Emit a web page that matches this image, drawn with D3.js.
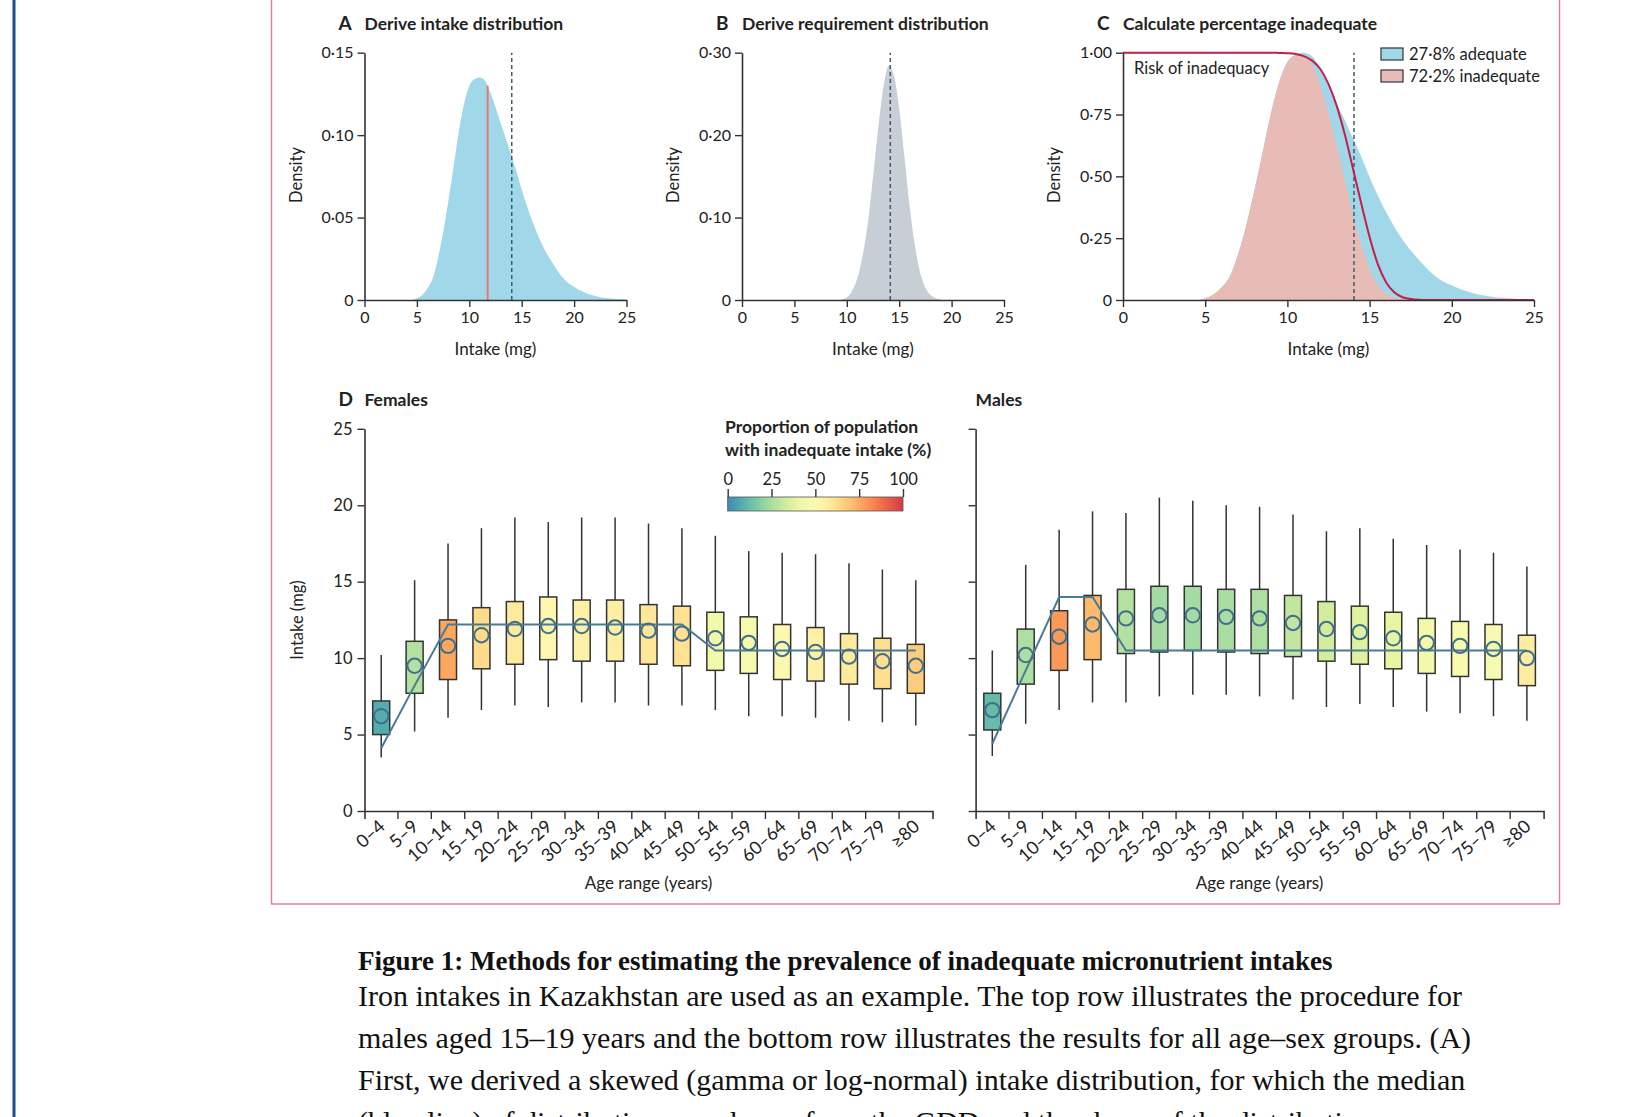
<!DOCTYPE html>
<html>
<head>
<meta charset="utf-8">
<script src="https://cdn.jsdelivr.net/npm/d3@7"></script>
<style>
  body { margin: 0; background: #fff; }
  svg { display: block; }
  .fig text { font-family: Lato, "Open Sans", sans-serif; fill: #222; }
  .cap text { font-family: "Liberation Serif", "Times New Roman", serif; fill: #111; }
</style>
</head>
<body>
<svg id="page" width="1652" height="1117"></svg>
<script>
// ---- data ----

// panel A / C: intake distribution (males 15-19), density per mg
const intakeMg = [0, 0.5, 1, 1.5, 2, 2.5, 3, 3.5, 4, 4.5, 5, 5.5, 6, 6.5, 7, 7.5, 8, 8.5, 9, 9.5,
  10, 10.5, 11, 11.5, 12, 12.5, 13, 13.5, 14, 14.5, 15, 15.5, 16, 16.5, 17, 17.5, 18, 18.5, 19, 19.5,
  20, 20.5, 21, 21.5, 22, 22.5, 23, 23.5, 24, 24.5, 25];
const intakeDensity = [0, 0, 0, 0, 0, 0, 0, 0, 0, 0, 0.001, 0.003, 0.007, 0.013, 0.025, 0.041, 0.060, 0.081, 0.102, 0.119,
  0.130, 0.134, 0.135, 0.133, 0.126, 0.117, 0.107, 0.098, 0.088, 0.078, 0.067, 0.057, 0.048, 0.040, 0.033, 0.027, 0.022, 0.017, 0.013, 0.010,
  0.008, 0.006, 0.0045, 0.0033, 0.0024, 0.0017, 0.0012, 0.0009, 0.0006, 0.0004, 0.0003];
// risk of inadequacy at the same intakes (panel C red curve)
const riskOfInadequacy = [1, 1, 1, 1, 1, 1, 1, 1, 1, 1, 1, 1, 1, 1, 1, 1, 1, 1, 1, 0.999,
  0.998, 0.995, 0.986, 0.968, 0.934, 0.873, 0.785, 0.667, 0.528, 0.388, 0.255, 0.145, 0.072, 0.031, 0.011, 0.004, 0.001, 0, 0, 0,
  0, 0, 0, 0, 0, 0, 0, 0, 0, 0, 0];
const intakeMedian = 11.75;
const intakeMedianDensity = 0.130;
const earMg = 14.05;

// panel B: requirement distribution
const requirementMg = [9.5, 10, 10.5, 11, 11.5, 12, 12.5, 13, 13.5, 14, 14.5, 15, 15.5, 16, 16.5, 17, 17.5, 18, 18.5, 19];
const requirementDensity = [0.001, 0.003, 0.011, 0.026, 0.053, 0.093, 0.149, 0.209, 0.259, 0.284,
  0.272, 0.232, 0.174, 0.113, 0.066, 0.033, 0.015, 0.006, 0.002, 0.0005];
const requirementMedian = 14.15;

const legendLabels = ["27·8% adequate", "72·2% inadequate"];

// panel D: intake by age group
const ageGroups = ["0–4", "5–9", "10–14", "15–19", "20–24", "25–29", "30–34", "35–39", "40–44",
  "45–49", "50–54", "55–59", "60–64", "65–69", "70–74", "75–79", "≥80"];

const femaleLow = [3.5, 5.2, 6.1, 6.6, 6.9, 6.8, 7.1, 7.1, 6.9, 6.9, 6.6, 6.2, 6.2, 6.1, 5.9, 5.8, 5.6];
const femaleQ1 = [5.0, 7.7, 8.6, 9.3, 9.6, 9.9, 9.8, 9.8, 9.6, 9.5, 9.2, 9.0, 8.6, 8.5, 8.3, 8.0, 7.7];
const femaleMedian = [6.2, 9.5, 10.8, 11.5, 11.9, 12.1, 12.1, 12.0, 11.8, 11.6, 11.3, 11.0, 10.6, 10.4, 10.1, 9.8, 9.5];
const femaleQ3 = [7.2, 11.1, 12.5, 13.3, 13.7, 14.0, 13.8, 13.8, 13.5, 13.4, 13.0, 12.7, 12.2, 12.0, 11.6, 11.3, 10.9];
const femaleHigh = [10.2, 15.1, 17.5, 18.5, 19.2, 18.9, 19.2, 19.2, 18.8, 18.5, 18.0, 17.0, 16.9, 16.8, 16.2, 15.8, 15.1];
const femaleInadequate = [8, 27, 76, 63, 58, 52, 55, 56, 59, 61, 44, 46, 50, 55, 58, 62, 67];
const femaleRequirement = [4.1, 8.2, 12.2, 12.2, 12.2, 12.2, 12.2, 12.2, 12.2, 12.2, 10.5, 10.5, 10.5, 10.5, 10.5, 10.5, 10.5];

const maleLow = [3.6, 5.7, 6.6, 7.1, 7.1, 7.5, 7.6, 7.6, 7.5, 7.3, 6.8, 7.0, 6.8, 6.5, 6.4, 6.2, 5.9];
const maleQ1 = [5.3, 8.3, 9.2, 9.9, 10.3, 10.4, 10.5, 10.4, 10.3, 10.1, 9.8, 9.6, 9.3, 9.0, 8.8, 8.6, 8.2];
const maleMedian = [6.6, 10.2, 11.4, 12.2, 12.6, 12.8, 12.8, 12.7, 12.6, 12.3, 11.9, 11.7, 11.3, 11.0, 10.8, 10.6, 10.0];
const maleQ3 = [7.7, 11.9, 13.1, 14.1, 14.5, 14.7, 14.7, 14.5, 14.5, 14.1, 13.7, 13.4, 13.0, 12.6, 12.4, 12.2, 11.5];
const maleHigh = [10.5, 16.1, 18.4, 19.6, 19.5, 20.5, 20.3, 20.0, 19.9, 19.4, 18.3, 18.5, 17.8, 17.4, 17.1, 16.9, 16.0];
const maleInadequate = [12, 26, 79, 72, 27, 24, 24, 25, 26, 30, 34, 37, 40, 44, 47, 48, 57];
const maleRequirement = [4.4, 9.2, 14.0, 14.0, 10.5, 10.5, 10.5, 10.5, 10.5, 10.5, 10.5, 10.5, 10.5, 10.5, 10.5, 10.5, 10.5];

const intakeTicks = [0, 5, 10, 15, 20, 25];
const proportionTicks = [0, 25, 50, 75, 100];

const captionTitle = "Figure 1: Methods for estimating the prevalence of inadequate micronutrient intakes";
const captionLines = [
  "Iron intakes in Kazakhstan are used as an example. The top row illustrates the procedure for",
  "males aged 15–19 years and the bottom row illustrates the results for all age–sex groups. (A)",
  "First, we derived a skewed (gamma or log-normal) intake distribution, for which the median",
  "(blue line) of distribution was drawn from the GDD and the shape of the distribution",
];

// ---- drawing ----
const svg = d3.select("#page");

// page furniture
svg.append("line").attr("x1", 14).attr("x2", 14).attr("y1", 0).attr("y2", 1117)
  .attr("stroke", "#1d4f8e").attr("stroke-width", 3);
svg.append("rect").attr("x", 271.5).attr("y", -10).attr("width", 1288).attr("height", 914)
  .attr("fill", "none").attr("stroke", "#dd8199").attr("stroke-width", 1.5);

const fig = svg.append("g").attr("class", "fig");

const dot = (d) => (d === 0 ? "0" : d3.format(".2f")(d).replace(".", "·"));

function styleAxis(g, size) {
  g.select(".domain").attr("stroke", "#333").attr("stroke-width", 1.6);
  g.selectAll(".tick line").attr("stroke", "#333").attr("stroke-width", 1.4);
  g.selectAll(".tick text").attr("font-size", size || 16).attr("fill", "#222");
}

function panelTitle(x, y, letter, label) {
  if (letter) {
    fig.append("text").attr("x", x - 26).attr("y", y).attr("font-size", 19)
      .attr("font-weight", 700).text(letter);
  }
  fig.append("text").attr("x", x).attr("y", y).attr("font-size", 17.5)
    .attr("font-weight", 700).text(label);
}

function densityPanel(left, right, yMax, yTicks, letter, label) {
  const x = d3.scaleLinear().domain([0, 25]).range([left, right]);
  const y = d3.scaleLinear().domain([0, yMax]).range([300, 52.7]);
  const g = fig.append("g");
  const marks = g.append("g");

  const xa = g.append("g").attr("transform", "translate(0,300)")
    .call(d3.axisBottom(x).tickValues(intakeTicks).tickSize(7).tickPadding(5).tickSizeOuter(0));
  const ya = g.append("g").attr("transform", `translate(${left},0)`)
    .call(d3.axisLeft(y).tickValues(yTicks).tickFormat(dot).tickSize(7).tickPadding(4).tickSizeOuter(0));
  styleAxis(xa);
  styleAxis(ya);

  fig.append("text").attr("x", (left + right) / 2).attr("y", 355)
    .attr("text-anchor", "middle").attr("font-size", 17).text("Intake (mg)");
  fig.append("text").attr("transform", `translate(${left - 63},175) rotate(-90)`)
    .attr("text-anchor", "middle").attr("font-size", 16.5).text("Density");
  panelTitle(left, 30, letter, label);
  return { marks, x, y };
}

function area(p) {
  return d3.area().curve(d3.curveMonotoneX)
    .x((d) => p.x(d[0])).y0(p.y(0)).y1((d) => p.y(d[1]));
}

function dashed(p, mg) {
  p.marks.append("line").attr("x1", p.x(mg)).attr("x2", p.x(mg))
    .attr("y1", p.y(0)).attr("y2", p.y.range()[1])
    .attr("stroke", "#3e5b6b").attr("stroke-width", 1.5).attr("stroke-dasharray", "4,3");
}

// A: intake distribution
const pA = densityPanel(364.5, 626.5, 0.15, [0, 0.05, 0.10, 0.15], "A", "Derive intake distribution");
pA.marks.append("path").datum(d3.zip(intakeMg, intakeDensity)).attr("d", area(pA)).attr("fill", "#a0d8e9");
pA.marks.append("line").attr("x1", pA.x(intakeMedian)).attr("x2", pA.x(intakeMedian))
  .attr("y1", pA.y(0)).attr("y2", pA.y(intakeMedianDensity))
  .attr("stroke", "#e27a72").attr("stroke-width", 2);
dashed(pA, earMg);

// B: requirement distribution
const pB = densityPanel(742, 1004, 0.30, [0, 0.10, 0.20, 0.30], "B", "Derive requirement distribution");
pB.marks.append("path").datum(d3.zip(requirementMg, requirementDensity)).attr("d", area(pB)).attr("fill", "#c7ced5");
dashed(pB, requirementMedian);

// C: percentage inadequate
const pC = densityPanel(1123, 1534, 1, [0, 0.25, 0.5, 0.75, 1], "C", "Calculate percentage inadequate");
const peak = d3.max(intakeDensity);
pC.marks.append("path").datum(intakeMg.map((m, i) => [m, intakeDensity[i] / peak]))
  .attr("d", area(pC)).attr("fill", "#a0d8e9");
pC.marks.append("path").datum(intakeMg.map((m, i) => [m, (intakeDensity[i] / peak) * riskOfInadequacy[i]]))
  .attr("d", area(pC)).attr("fill", "#e8bcb6");
dashed(pC, earMg);
pC.marks.append("path").datum(d3.zip(intakeMg, riskOfInadequacy))
  .attr("d", d3.line().curve(d3.curveMonotoneX).x((d) => pC.x(d[0])).y((d) => pC.y(d[1])))
  .attr("fill", "none").attr("stroke", "#c41e4a").attr("stroke-width", 2);
fig.append("text").attr("x", 1134).attr("y", 74).attr("font-size", 16.5).text("Risk of inadequacy");

const legendFill = ["#a0d8e9", "#e8bcb6"];
legendLabels.forEach((t, i) => {
  fig.append("rect").attr("x", 1381).attr("y", 48 + i * 22).attr("width", 22).attr("height", 12)
    .attr("fill", legendFill[i]).attr("stroke", "#333").attr("stroke-width", 1.2);
  fig.append("text").attr("x", 1409).attr("y", 60 + i * 22).attr("font-size", 16.5).text(t);
});

// D: box plots by age group
const colour = d3.scaleSequential((t) => d3.interpolateSpectral(0.9 - 0.8 * t)).domain([0, 100]);
const yD = d3.scaleLinear().domain([0, 25]).range([811, 428.8]);

function boxPanel(left, labels, low, q1, med, q3, high, inad, req) {
  const x = d3.scaleBand().domain(ageGroups).range([left, left + 568]).paddingInner(0);
  const cx = (d) => x(d) + x.bandwidth() / 2;
  const g = fig.append("g");

  const ya = g.append("g").attr("transform", `translate(${left},0)`)
    .call(d3.axisLeft(yD).tickValues(intakeTicks).tickSize(7).tickPadding(5).tickSizeOuter(0)
      .tickFormat(labels ? d3.format("d") : ""));
  styleAxis(ya, 16.5);
  const xa = g.append("g").attr("transform", "translate(0,811)")
    .call(d3.axisBottom(x).tickSize(0).tickSizeOuter(8).tickFormat(""));
  styleAxis(xa);
  xa.selectAll(".bound").data(ageGroups.slice(1)).join("line").attr("class", "bound")
    .attr("x1", (d) => x(d)).attr("x2", (d) => x(d)).attr("y1", 0).attr("y2", 8)
    .attr("stroke", "#333").attr("stroke-width", 1.4);
  g.selectAll(".age").data(ageGroups).join("text").attr("class", "age")
    .attr("transform", (d) => `translate(${cx(d) + 5},828) rotate(-42)`)
    .attr("text-anchor", "end").attr("font-size", 18).text((d) => d);

  g.selectAll(".whisker").data(ageGroups).join("line").attr("class", "whisker")
    .attr("x1", cx).attr("x2", cx)
    .attr("y1", (d, i) => yD(low[i])).attr("y2", (d, i) => yD(high[i]))
    .attr("stroke", "#333").attr("stroke-width", 1.5);
  g.selectAll(".box").data(ageGroups).join("rect").attr("class", "box")
    .attr("x", (d) => cx(d) - 8.5).attr("width", 17)
    .attr("y", (d, i) => yD(q3[i])).attr("height", (d, i) => yD(q1[i]) - yD(q3[i]))
    .attr("fill", (d, i) => colour(inad[i])).attr("stroke", "#333").attr("stroke-width", 1.5);
  g.append("path").datum(req)
    .attr("d", d3.line().x((d, i) => cx(ageGroups[i])).y((d) => yD(d)))
    .attr("fill", "none").attr("stroke", "#4a7a96").attr("stroke-width", 2);
  g.selectAll(".med").data(ageGroups).join("circle").attr("class", "med")
    .attr("cx", cx).attr("cy", (d, i) => yD(med[i])).attr("r", 7.2)
    .attr("fill", "none").attr("stroke", "#41708c").attr("stroke-width", 2);

  fig.append("text").attr("x", left + 284).attr("y", 889).attr("text-anchor", "middle")
    .attr("font-size", 17).text("Age range (years)");
}

boxPanel(364.5, true, femaleLow, femaleQ1, femaleMedian, femaleQ3, femaleHigh, femaleInadequate, femaleRequirement);
boxPanel(975.6, false, maleLow, maleQ1, maleMedian, maleQ3, maleHigh, maleInadequate, maleRequirement);
panelTitle(364.5, 406, "D", "Females");
panelTitle(975.6, 406, null, "Males");
fig.append("text").attr("transform", "translate(303,620) rotate(-90)")
  .attr("text-anchor", "middle").attr("font-size", 16.5).text("Intake (mg)");

// colour bar
const cb = d3.scaleLinear().domain([0, 100]).range([727.7, 903]);
const grad = svg.append("defs").append("linearGradient").attr("id", "cbar");
grad.selectAll("stop").data(d3.range(0, 101, 5)).join("stop")
  .attr("offset", (d) => d + "%").attr("stop-color", (d) => colour(d));
fig.append("rect").attr("x", cb(0)).attr("y", 497).attr("width", cb(100) - cb(0)).attr("height", 14)
  .attr("fill", "url(#cbar)").attr("stroke", "#555").attr("stroke-width", 0.8);
const cba = fig.append("g").attr("transform", "translate(0,497)")
  .call(d3.axisTop(cb).tickValues(proportionTicks).tickSize(8).tickPadding(4).tickSizeOuter(0));
styleAxis(cba, 16.5);
cba.select(".domain").remove();
fig.append("text").attr("x", 725).attr("y", 433).attr("font-size", 17.5).attr("font-weight", 700)
  .text("Proportion of population");
fig.append("text").attr("x", 725).attr("y", 456).attr("font-size", 17.5).attr("font-weight", 700)
  .text("with inadequate intake (%)");

// caption
const cap = svg.append("g").attr("class", "cap");
cap.append("text").attr("x", 358).attr("y", 970).attr("font-size", 27).attr("font-weight", 700)
  .text(captionTitle);
cap.selectAll(".line").data(captionLines).join("text").attr("class", "line")
  .attr("x", 358).attr("y", (d, i) => 1006 + i * 42).attr("font-size", 30).text((d) => d);
</script>
</body>
</html>
